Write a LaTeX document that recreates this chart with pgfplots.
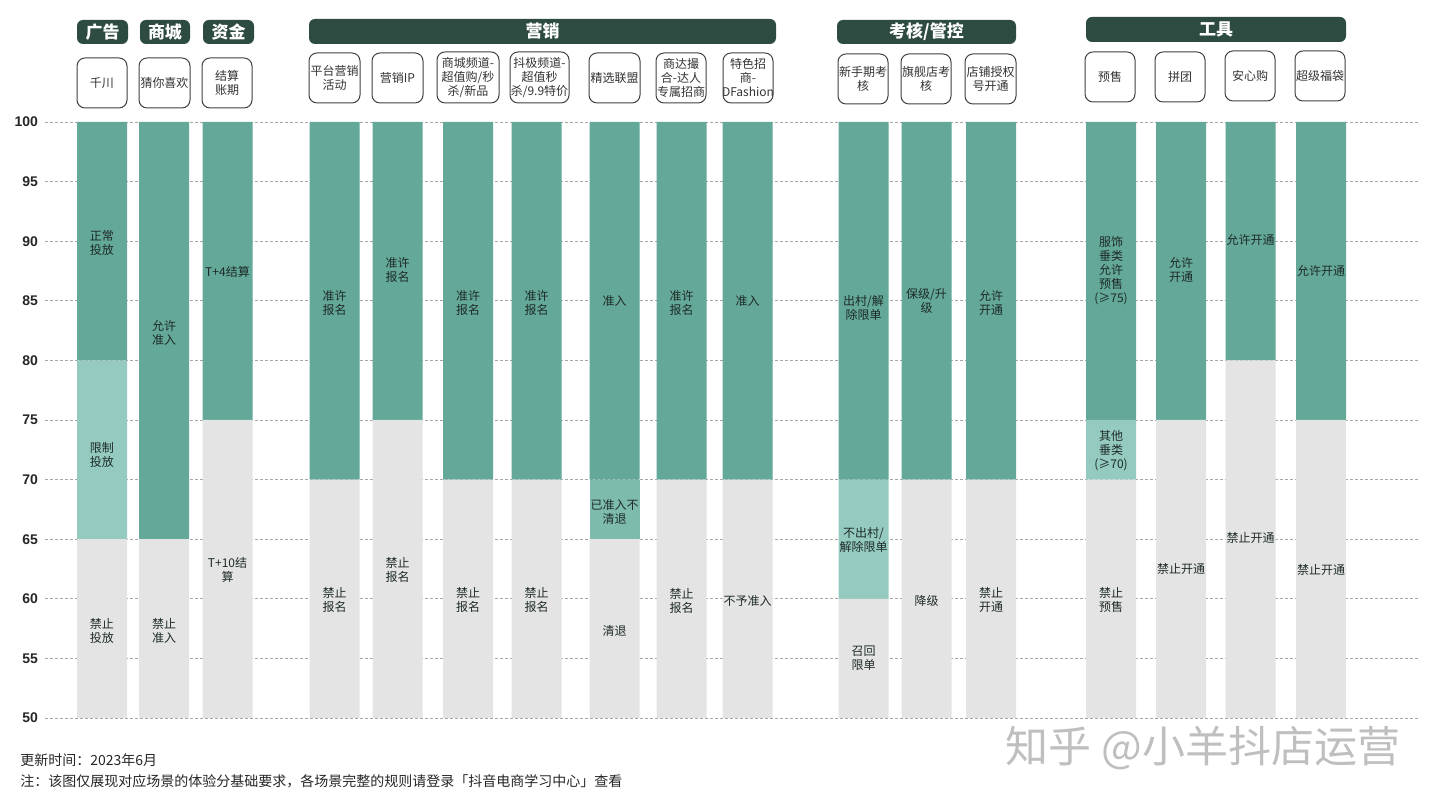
\documentclass[border=0pt]{standalone}
\usepackage{pgfplots}
\pgfplotsset{compat=1.18}
\usepackage{fontspec}
\setmainfont{Noto Sans CJK SC}
\newfontfamily\numfont{Liberation Sans}

\definecolor{cteal}{HTML}{63A898}
\definecolor{clight}{HTML}{94CABF}
\definecolor{cmid}{HTML}{7DBCAC}
\definecolor{cgrey}{HTML}{E4E4E4}
\definecolor{chdr}{HTML}{2D4B41}
\definecolor{ctxt}{HTML}{1E2B28}

\tikzset{
  barlab/.style={align=center, text=ctxt, inner sep=0pt, font=\fontsize{6}{7}\selectfont},
  hdrtxt/.style={text=white, inner sep=0pt, font=\fontsize{8.5}{9}\selectfont\bfseries},
  boxtxt/.style={align=center, text=black!80, inner sep=0pt, font=\fontsize{6}{7}\selectfont},
  hdr/.style={fill=chdr, rounded corners=3pt},
  scb/.style={draw=black!75, line width=0.5pt, fill=white, rounded corners=4pt},
}

\begin{document}
\begin{tikzpicture}
% plot area: x px 45..1420, y px 122..718 of a 1437x807 frame (1px = 0.5pt)
\begin{axis}[
  at={(22.5pt,44.5pt)}, anchor=south west,
  scale only axis,
  width=687.5pt, height=298pt,
  xmin=45, xmax=1420, ymin=0, ymax=50,
  enlargelimits=false,
  ybar stacked, bar width=25pt,
  axis line style={draw=none},
  xtick=\empty,
  ytick={0,5,...,50},
  yticklabels={50,55,60,65,70,75,80,85,90,95,100},
  major tick length=0pt,
  yticklabel style={font=\numfont\bfseries\fontsize{7}{8}\selectfont, text=black!85},
  ymajorgrids,
  grid style={gray!70, line width=0.4pt, dash pattern=on 1.5pt off 1pt},
]
% grey = below, light = restricted band, mid, teal = allowed (values minus 50)
\addplot[fill=cgrey, draw=none] coordinates {(102,15) (164,15) (227.5,25) (334.5,20) (397.5,25) (468,20) (536.5,20) (614.5,15) (681.5,20) (747.5,20) (863.5,10) (926.5,20) (991,20) (1111,20) (1181,25) (1250.5,30) (1321,25)};
\addplot[fill=clight, draw=none] coordinates {(102,15) (164,0) (227.5,0) (334.5,0) (397.5,0) (468,0) (536.5,0) (614.5,0) (681.5,0) (747.5,0) (863.5,10) (926.5,0) (991,0) (1111,5) (1181,0) (1250.5,0) (1321,0)};
\addplot[fill=cmid, draw=none] coordinates {(102,0) (164,0) (227.5,0) (334.5,0) (397.5,0) (468,0) (536.5,0) (614.5,5) (681.5,0) (747.5,0) (863.5,0) (926.5,0) (991,0) (1111,0) (1181,0) (1250.5,0) (1321,0)};
\addplot[fill=cteal, draw=none] coordinates {(102,20) (164,35) (227.5,25) (334.5,30) (397.5,25) (468,30) (536.5,30) (614.5,30) (681.5,30) (747.5,30) (863.5,30) (926.5,30) (991,30) (1111,25) (1181,25) (1250.5,20) (1321,25)};
\end{axis}

% decorations in pixel coordinates of the frame (y downwards)
\begin{scope}[x=0.5pt, y=-0.5pt, yshift=403.5pt]
\path (0,0) rectangle (1437,807);

% group headers
\fill[hdr] (77,20) rectangle (128,44);
\fill[hdr] (140,20) rectangle (190,44);
\fill[hdr] (203,20) rectangle (254,44);
\fill[hdr] (309,19) rectangle (776,44);
\fill[hdr] (837,20) rectangle (1016,44);
\fill[hdr] (1086,17) rectangle (1346,42);
\node[hdrtxt] at (102.5,32) {广告};
\node[hdrtxt] at (165,32) {商城};
\node[hdrtxt] at (228.5,32) {资金};
\node[hdrtxt] at (542.5,31.5) {营销};
\node[hdrtxt] at (926.5,32) {考核/管控};
\node[hdrtxt] at (1216,29.5) {工具};

% scenario boxes
\draw[scb] (77,58) rectangle (127,108);
\draw[scb] (139,58) rectangle (190,108);
\draw[scb] (202,58) rectangle (252,108);
\draw[scb] (309,53) rectangle (360,103);
\draw[scb] (372,53) rectangle (423,103);
\draw[scb] (437,52) rectangle (499,103);
\draw[scb] (510,52) rectangle (569,103);
\draw[scb] (589,53) rectangle (640,103);
\draw[scb] (656,53) rectangle (706,103);
\draw[scb] (723,53) rectangle (773,103);
\draw[scb] (838,54) rectangle (888,104);
\draw[scb] (901,54) rectangle (951,104);
\draw[scb] (965,54) rectangle (1016,104);
\draw[scb] (1085,52) rectangle (1135,102);
\draw[scb] (1155,52) rectangle (1205,102);
\draw[scb] (1225,51) rectangle (1275,101);
\draw[scb] (1295,51) rectangle (1345,101);

\node[boxtxt] at (102,83) {千川};
\node[boxtxt] at (164.5,83) {猜你喜欢};
\node[boxtxt] at (227,83) {结算\\账期};
\node[boxtxt] at (334.5,78) {平台营销\\活动};
\node[boxtxt] at (397.5,78) {营销IP};
\node[boxtxt] at (468,77.5) {商城频道-\\超值购/秒\\杀/新品};
\node[boxtxt] at (539.5,77.5) {抖极频道-\\超值秒\\杀/9.9特价};
\node[boxtxt] at (614.5,78) {精选联盟};
\node[boxtxt] at (681,78) {商达撮\\合-达人\\专属招商};
\node[boxtxt] at (748,78) {特色招\\商-\\DFashion};
\node[boxtxt] at (863,79) {新手期考\\核};
\node[boxtxt] at (926,79) {旗舰店考\\核};
\node[boxtxt] at (990.5,79) {店铺授权\\号开通};
\node[boxtxt] at (1110,77) {预售};
\node[boxtxt] at (1180,77) {拼团};
\node[boxtxt] at (1250,76) {安心购};
\node[boxtxt] at (1320,76) {超级福袋};

% bar labels
\node[barlab] at (102,243) {正常\\投放};
\node[barlab] at (102,455) {限制\\投放};
\node[barlab] at (102,631) {禁止\\投放};
\node[barlab] at (164,333) {允许\\准入};
\node[barlab] at (164,631) {禁止\\准入};
\node[barlab] at (227.5,272) {T+4结算};
\node[barlab] at (227.5,570) {T+10结\\算};
\node[barlab] at (334.5,303) {准许\\报名};
\node[barlab] at (334.5,600) {禁止\\报名};
\node[barlab] at (397.5,270) {准许\\报名};
\node[barlab] at (397.5,570) {禁止\\报名};
\node[barlab] at (468,303) {准许\\报名};
\node[barlab] at (468,600) {禁止\\报名};
\node[barlab] at (536.5,303) {准许\\报名};
\node[barlab] at (536.5,600) {禁止\\报名};
\node[barlab] at (614.5,301) {准入};
\node[barlab] at (614.5,512) {已准入不\\清退};
\node[barlab] at (614.5,631) {清退};
\node[barlab] at (681.5,303) {准许\\报名};
\node[barlab] at (681.5,601) {禁止\\报名};
\node[barlab] at (747.5,301) {准入};
\node[barlab] at (747.5,601) {不予准入};
\node[barlab] at (863.5,308) {出村/解\\除限单};
\node[barlab] at (863.5,540) {不出村/\\解除限单};
\node[barlab] at (863.5,658) {召回\\限单};
\node[barlab] at (926.5,301) {保级/升\\级};
\node[barlab] at (926.5,601) {降级};
\node[barlab] at (991,303) {允许\\开通};
\node[barlab] at (991,600) {禁止\\开通};
\node[barlab] at (1111,271) {服饰\\垂类\\允许\\预售\\(≥75)};
\node[barlab] at (1111,451) {其他\\垂类\\(≥70)};
\node[barlab] at (1111,600) {禁止\\预售};
\node[barlab] at (1181,270) {允许\\开通};
\node[barlab] at (1181,569) {禁止开通};
\node[barlab] at (1250.5,240) {允许开通};
\node[barlab] at (1250.5,538) {禁止开通};
\node[barlab] at (1321,271) {允许开通};
\node[barlab] at (1321,570) {禁止开通};

% footer
\node[anchor=west, inner sep=0pt, text=black!85, font=\fontsize{7}{8}\selectfont] at (20,760) {更新时间：2023年6月};
\node[anchor=west, inner sep=0pt, text=black!85, font=\fontsize{7}{8}\selectfont] at (20,781) {注：该图仅展现对应场景的体验分基础要求，各场景完整的规则请登录「抖音电商学习中心」查看};
\node[text=gray!50, inner sep=0pt, font=\fontsize{21.5}{25}\selectfont] at (1203,748) {知乎 @小羊抖店运营};
\end{scope}
\end{tikzpicture}
\end{document}
